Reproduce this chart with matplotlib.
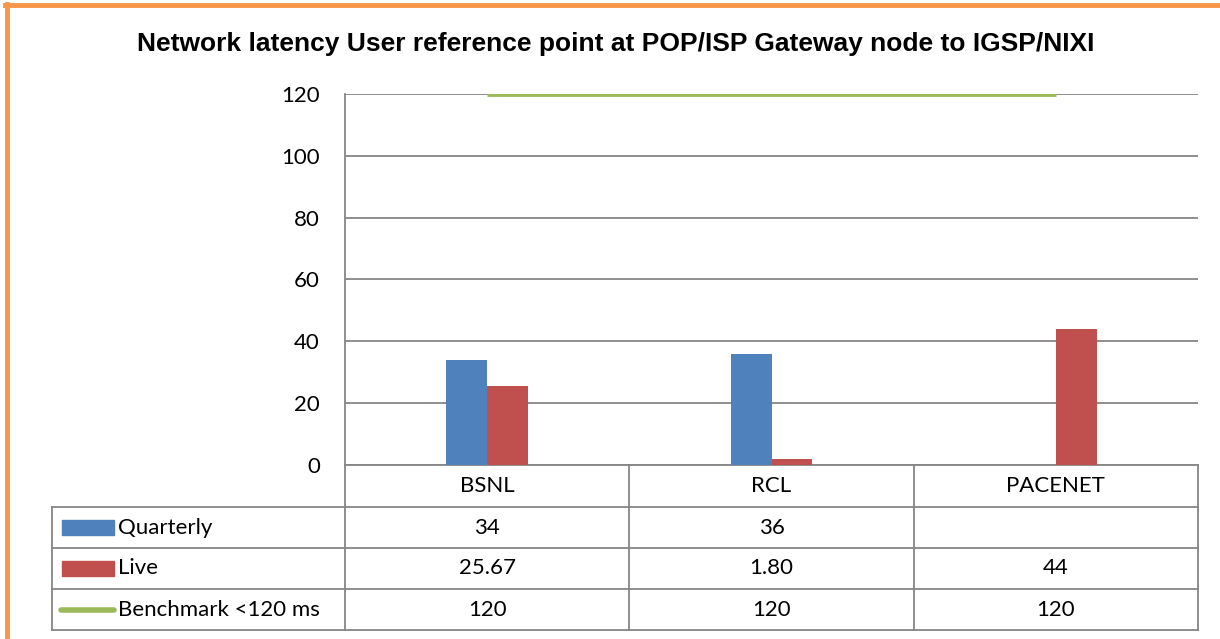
import numpy as np
import matplotlib
matplotlib.use('Agg')
import matplotlib.pyplot as plt
from matplotlib.patches import Rectangle
from matplotlib.lines import Line2D

# data
categories = ['BSNL', 'RCL', 'PACENET']
quarterly = [34, 36, None]
live = [25.67, 1.80, 44]
benchmark = [120, 120, 120]
quarterly_labels = ['34', '36', '']
live_labels = ['25.67', '1.80', '44']
bench_labels = ['120', '120', '120']
series_names = ['Quarterly', 'Live', 'Benchmark <120 ms']
yticks = [0, 20, 40, 60, 80, 100, 120]

BLUE = '#4F81BD'
RED = '#C0504D'
GREEN = '#9BBB59'
GRID = '#868686'
FS = 16

plt.rcParams['font.family'] = ['Lato', 'DejaVu Sans']

W, H = 1220, 639
fig = plt.figure(figsize=(W / 100, H / 100), dpi=100)

# overlay in pixel coords for border + table
over = fig.add_axes([0, 0, 1, 1], zorder=0)
over.set_xlim(0, W)
over.set_ylim(H, 0)
over.axis('off')

# orange frame (left and top visible)
over.add_line(Line2D([7, 7], [4, H], color='#F79646', lw=3.5))
over.add_line(Line2D([5, W], [4.5, 4.5], color='#F79646', lw=3.5))

# plot area
x0, x1, ytop, ybot = 345, 1198, 94, 465
ax = fig.add_axes([x0 / W, 1 - ybot / H, (x1 - x0) / W, (ybot - ytop) / H], zorder=2)
ax.patch.set_alpha(0)

n = len(categories)
x = np.arange(n)
bw = 0.144
q = [np.nan if v is None else v for v in quarterly]
ax.bar(x - bw / 2, q, bw, color=BLUE, zorder=3)
ax.bar(x + bw / 2, live, bw, color=RED, zorder=3)
ax.plot(x, benchmark, color=GREEN, lw=3.5, zorder=4, solid_capstyle='butt')

ax.set_xlim(-0.5, n - 0.5)
ax.set_ylim(0, 120)
ax.set_yticks(yticks)
ax.yaxis.grid(True, color=GRID, lw=1.3, zorder=0)
ax.set_axisbelow(True)
ax.set_xticks([])
for s in ['top', 'right', 'bottom']:
    ax.spines[s].set_visible(False)
ax.spines['left'].set_color(GRID)
ax.spines['left'].set_linewidth(1.3)
ax.tick_params(axis='y', length=0, labelsize=FS, pad=18)

# title
fig.text(0.5 * (143 + 1088) / W, 1 - 44 / H,
         'Network latency User reference point at POP/ISP Gateway node to IGSP/NIXI',
         ha='center', va='center', fontsize=19, fontweight='bold',
         family=['Liberation Sans Narrow', 'Liberation Sans', 'DejaVu Sans'])

# data table below plot
col_edges = [x0 + (x1 - x0) * i / n for i in range(n + 1)]
row_edges = [ybot, 507, 548, 589, 630]
left = 52
lkw = dict(color=GRID, lw=1.3)
over.add_line(Line2D([x0, x1], [ybot, ybot], **lkw))
for xe in col_edges:
    over.add_line(Line2D([xe, xe], [ybot, row_edges[-1]], **lkw))
for ye in row_edges[1:]:
    over.add_line(Line2D([left, x1], [ye, ye], **lkw))
over.add_line(Line2D([left, left], [row_edges[1], row_edges[-1]], **lkw))

tkw = dict(fontsize=FS, va='center', ha='center')
for i, c in enumerate(categories):
    xc = (col_edges[i] + col_edges[i + 1]) / 2
    over.text(xc, (row_edges[0] + row_edges[1]) / 2, c, **tkw)
    over.text(xc, (row_edges[1] + row_edges[2]) / 2, quarterly_labels[i], **tkw)
    over.text(xc, (row_edges[2] + row_edges[3]) / 2, live_labels[i], **tkw)
    over.text(xc, (row_edges[3] + row_edges[4]) / 2, bench_labels[i], **tkw)

# legend keys inside table
for r, (name, col) in enumerate(zip(series_names, [BLUE, RED, GREEN])):
    yc = (row_edges[r + 1] + row_edges[r + 2]) / 2
    if r < 2:
        over.add_patch(Rectangle((62, yc - 7.5), 52, 15, color=col))
    else:
        over.add_line(Line2D([61, 114], [yc, yc], color=col, lw=4, solid_capstyle='round'))
    over.text(118, yc, name, fontsize=FS, va='center', ha='left')

fig.savefig('out.png', dpi=100)
